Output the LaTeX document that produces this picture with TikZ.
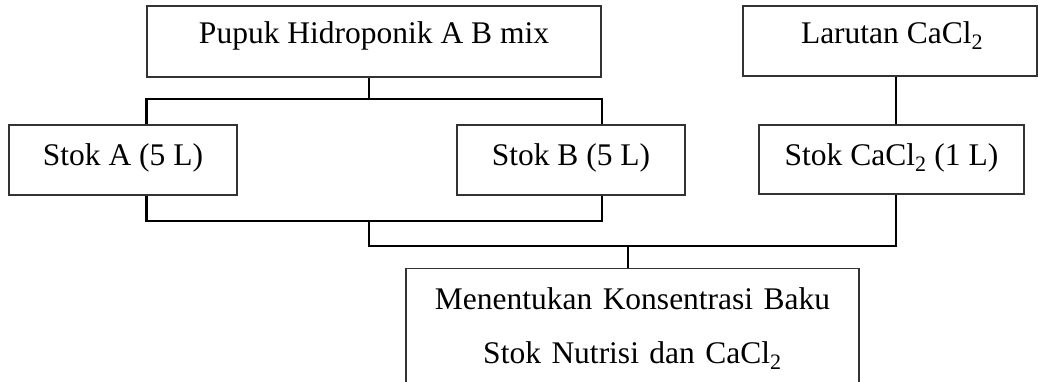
\documentclass[tikz,border=0pt]{standalone}
\usepackage{fontspec}
\setmainfont{Liberation Serif}
\begin{document}
\begin{tikzpicture}[x=1pt,y=-1pt,
  box/.style={draw=black!80, line width=1.2pt, rectangle, inner sep=0pt, anchor=base,
    font=\fontsize{31.5}{54}\selectfont},
  conn/.style={draw=black, line width=2.2pt, line join=miter}]
\path[use as bounding box] (0,0) rectangle (1038,381);
\clip (0,0) rectangle (1038,381);
\fill[white] (0,0) rectangle (1038,381);
% boxes
\node[box, minimum width=454pt, text height=37pt, text depth=34pt] (pupuk) at (374,43) {Pupuk Hidroponik A B mix};
\node[box, minimum width=294pt, text height=37pt, text depth=33pt] (larutan) at (890,43)
  {\makebox[294pt][l]{\hspace*{58pt}Larutan CaCl\textsubscript{2}}};
\node[box, minimum width=228pt, text height=40pt, text depth=30pt] (stokA) at (123,165) {Stok A (5 L)};
\node[box, minimum width=228pt, text height=40pt, text depth=30pt] (stokB) at (571,165) {Stok B (5 L)};
\node[box, minimum width=265pt, text height=40pt, text depth=29pt] (stokC) at (891.5,165) {Stok CaCl\textsubscript{2} (1 L)};
\node[box, anchor=north, text width=453pt, align=center] (baku) at (632.5,268)
  {\rule{0pt}{41pt}Menentukan Konsentrasi Baku\\Stok Nutrisi dan CaCl\textsubscript{2}\rule[-45pt]{0pt}{45pt}};
% junction coordinates
\coordinate (j1) at (369,99);
\coordinate (j2) at (369,221);
\coordinate (j3) at (628,246);
\coordinate (jc) at (896,246);
% connectors
\draw[conn] (pupuk.south -| j1) -- (j1);
\draw[conn] (stokA.north -| pupuk.west) -- (pupuk.west |- j1) -- (pupuk.east |- j1) -- (stokB.north -| pupuk.east);
\draw[conn] (larutan.south -| jc) -- (stokC.north -| jc);
\draw[conn] (stokA.south -| pupuk.west) -- (pupuk.west |- j2) -- (pupuk.east |- j2) -- (stokB.south -| pupuk.east);
\draw[conn] (j2) -- (j2 |- jc) -- (jc) -- (stokC.south -| jc);
\draw[conn] (j3) -- (baku.north -| j3);
\end{tikzpicture}
\end{document}
